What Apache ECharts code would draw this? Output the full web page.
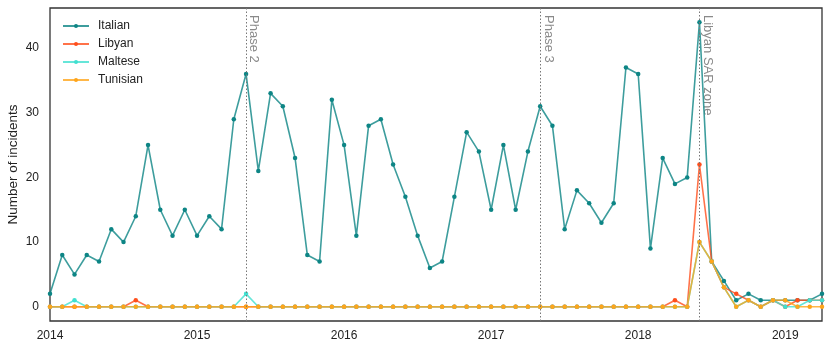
<!DOCTYPE html>
<html>
<head>
<meta charset="utf-8">
<script src="https://cdn.jsdelivr.net/npm/echarts@6/dist/echarts.min.js"></script>
<style>
  html, body { margin: 0; padding: 0; background: #fff; }
  #main { width: 830px; height: 352px; }
</style>
</head>
<body>
<div id="main"></div>
<script>
// months Jan 2014 .. Apr 2019
var months = [
  "2014-01","2014-02","2014-03","2014-04","2014-05","2014-06","2014-07","2014-08","2014-09","2014-10","2014-11","2014-12",
  "2015-01","2015-02","2015-03","2015-04","2015-05","2015-06","2015-07","2015-08","2015-09","2015-10","2015-11","2015-12",
  "2016-01","2016-02","2016-03","2016-04","2016-05","2016-06","2016-07","2016-08","2016-09","2016-10","2016-11","2016-12",
  "2017-01","2017-02","2017-03","2017-04","2017-05","2017-06","2017-07","2017-08","2017-09","2017-10","2017-11","2017-12",
  "2018-01","2018-02","2018-03","2018-04","2018-05","2018-06","2018-07","2018-08","2018-09","2018-10","2018-11","2018-12",
  "2019-01","2019-02","2019-03","2019-04"
];
var italian = [
  2, 8, 5, 8, 7, 12, 10, 14, 25, 15, 11, 15,
  11, 14, 12, 29, 36, 21, 33, 31, 23, 8, 7, 32,
  25, 11, 28, 29, 22, 17, 11, 6, 7, 17, 27, 24,
  15, 25, 15, 24, 31, 28, 12, 18, 16, 13, 16, 37,
  36, 9, 23, 19, 20, 44, 7, 4, 1, 2, 1, 1,
  1, 1, 1, 2
];
var libyan = [
  0, 0, 0, 0, 0, 0, 0, 1, 0, 0, 0, 0,
  0, 0, 0, 0, 0, 0, 0, 0, 0, 0, 0, 0,
  0, 0, 0, 0, 0, 0, 0, 0, 0, 0, 0, 0,
  0, 0, 0, 0, 0, 0, 0, 0, 0, 0, 0, 0,
  0, 0, 0, 1, 0, 22, 7, 3, 2, 1, 0, 1,
  0, 1, 1, 1
];
var maltese = [
  0, 0, 1, 0, 0, 0, 0, 0, 0, 0, 0, 0,
  0, 0, 0, 0, 2, 0, 0, 0, 0, 0, 0, 0,
  0, 0, 0, 0, 0, 0, 0, 0, 0, 0, 0, 0,
  0, 0, 0, 0, 0, 0, 0, 0, 0, 0, 0, 0,
  0, 0, 0, 0, 0, 10, 7, 3, 0, 1, 0, 1,
  0, 0, 1, 1
];
var tunisian = [
  0, 0, 0, 0, 0, 0, 0, 0, 0, 0, 0, 0,
  0, 0, 0, 0, 0, 0, 0, 0, 0, 0, 0, 0,
  0, 0, 0, 0, 0, 0, 0, 0, 0, 0, 0, 0,
  0, 0, 0, 0, 0, 0, 0, 0, 0, 0, 0, 0,
  0, 0, 0, 0, 0, 10, 7, 3, 0, 1, 0, 1,
  1, 0, 0, 0
];
var yTicks = [0, 10, 20, 30, 40];
var events = [
  { month: "2015-05", name: "Phase 2" },
  { month: "2017-05", name: "Phase 3" },
  { month: "2018-06", name: "Libyan SAR zone" }
];

var font = "Liberation Sans, Arial, sans-serif";
var myChart = echarts.init(document.getElementById("main"));

function mkSeries(name, data, color) {
  return {
    name: name,
    type: "line",
    data: data,
    symbol: "circle",
    symbolSize: 4.5,
    color: color,
    lineStyle: { width: 1.6, opacity: 0.8 },
    itemStyle: { color: color },
    emphasis: { disabled: true },
    animation: false
  };
}

var series = [
  mkSeries("Italian", italian, "#0d8585"),
  mkSeries("Libyan", libyan, "#ff4f1c"),
  mkSeries("Maltese", maltese, "#40e0d0"),
  mkSeries("Tunisian", tunisian, "#ffa51a")
];
// event lines
series[0].markLine = {
  silent: true,
  symbol: "none",
  label: { show: false },
  lineStyle: { type: [1.5, 2], color: "#777", width: 1 },
  data: events.map(function (e) { return { xAxis: e.month }; })
};

var option = {
  animation: false,
  backgroundColor: "#fff",
  grid: {
    left: 50, right: 8, top: 8, bottom: 31,
    outerBoundsMode: "none",
    containLabel: false,
    show: true, borderColor: "#333", borderWidth: 1.3
  },
  legend: {
    orient: "vertical",
    left: 57, top: 15,
    padding: 5,
    itemWidth: 26, itemHeight: 5, itemGap: 6,
    textStyle: { fontFamily: font, fontSize: 12, color: "#222", padding: [0, 0, 0, 4] },
    data: ["Italian", "Libyan", "Maltese", "Tunisian"]
  },
  xAxis: {
    type: "category",
    data: months,
    boundaryGap: false,
    axisLine: { show: false },
    axisTick: { show: false },
    splitLine: { show: false },
    axisLabel: {
      interval: function (i) { return i % 12 === 0; },
      formatter: function (v) { return v.slice(0, 4); },
      fontFamily: font, fontSize: 12, color: "#222", margin: 9
    }
  },
  yAxis: {
    type: "value",
    min: -2.2,
    max: 46.2,
    axisLine: { show: false },
    axisTick: { show: false },
    splitLine: { show: false },
    axisLabel: {
      customValues: yTicks,
      fontFamily: font, fontSize: 12, color: "#222", margin: 11
    }
  },
  series: series
};

myChart.setOption(option);

// rotated event labels next to the dotted lines, plus the y axis title
var yTop = 15;
var gfx = events.map(function (e) {
  var x = myChart.convertToPixel({ xAxisIndex: 0 }, e.month);
  return {
    type: "text",
    x: x + 1.5,
    y: yTop,
    rotation: -Math.PI / 2,
    silent: true,
    style: {
      text: e.name,
      fill: "#8a8a8a",
      font: "13px " + font,
      textAlign: "left",
      textVerticalAlign: "bottom"
    }
  };
});
gfx.push({
  type: "text",
  x: 13.5,
  y: 164.5,
  rotation: Math.PI / 2,
  silent: true,
  style: {
    text: "Number of incidents",
    fill: "#222",
    font: "13.5px " + font,
    textAlign: "center",
    textVerticalAlign: "middle"
  }
});
myChart.setOption({ graphic: gfx });
</script>
</body>
</html>
